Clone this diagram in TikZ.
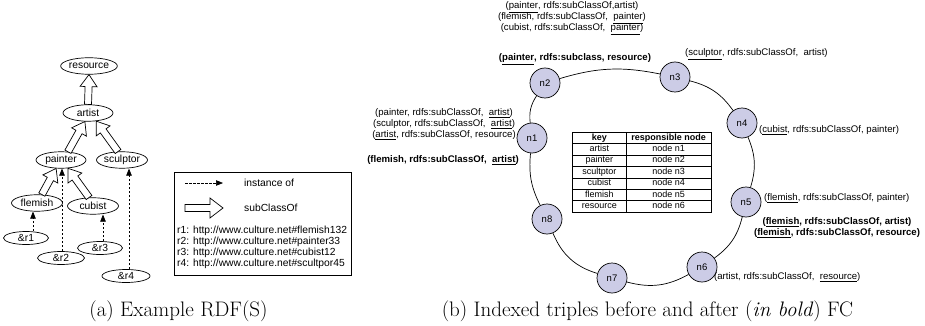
\documentclass[tikz,border=0pt]{standalone}
\usepackage{fontspec}
\setsansfont{Liberation Sans}
\usepackage{array}
\usetikzlibrary{arrows.meta,calc,shapes.geometric}
\definecolor{nodefill}{RGB}{204,204,230}
\newcommand{\hollowarrow}[5]{%
  \coordinate (ha-c) at ($(#2)!#5!(#1)$);
  \filldraw[hollowstyle]
    ($(#1)!#3!90:(#2)$) -- ($(ha-c)!#3!-90:(#1)$) -- ($(ha-c)!#4!-90:(#1)$) -- (#2)
    -- ($(ha-c)!#4!90:(#1)$) -- ($(ha-c)!#3!90:(#1)$) -- ($(#1)!#3!-90:(#2)$) -- cycle;
}
\begin{document}
\begin{tikzpicture}[x=1pt,y=-1pt,
  every node/.style={font=\sffamily\fontsize{9.6}{11}\selectfont},
  ellnode/.style={draw, ellipse, inner sep=0pt, minimum width=50pt, minimum height=16.5pt, line width=0.7pt, font=\sffamily\fontsize{10.3}{11}\selectfont},
  refnode/.style={draw, ellipse, inner sep=0pt, minimum width=45pt, minimum height=13pt, line width=0.7pt, font=\sffamily\fontsize{10.3}{11}\selectfont},
  instarrow/.style={line width=0.7pt, dash pattern=on 2.5pt off 1.5pt, -{Triangle[length=7pt,width=5.5pt]}},
  hollowstyle/.style={draw, fill=white, line width=0.7pt, line join=miter},
  ringnode/.style={draw, circle, fill=nodefill, minimum size=30pt, inner sep=0pt, line width=0.7pt, font=\sffamily\fontsize{9.5}{11}\selectfont},
  ringline/.style={line width=0.7pt},
  lbl/.style={inner sep=0pt, align=center},
  bl/.style={lbl, font=\sffamily\bfseries\fontsize{9.6}{11}\selectfont},
  legtext/.style={inner sep=0pt, font=\sffamily\fontsize{10.3}{11}\selectfont},
  captext/.style={inner sep=0pt, font=\rmfamily\fontsize{21}{24}\selectfont},
]
\useasboundingbox (0,0) rectangle (925,326);

% ---------- (a) ----------
\node[ellnode] (resource) at (89,66) {resource};
\node[ellnode] (artist) at (88,113) {artist};
\node[ellnode] (painter) at (61,160) {painter};
\node[ellnode, minimum width=51pt] (sculptor) at (122,160) {sculptor};
\node[ellnode, minimum width=51pt] (flemish) at (37,203) {flemish};
\node[ellnode, minimum width=51pt] (cubist) at (93,206) {cubist};
\node[refnode] (r1) at (26,238) {\&r1};
\node[refnode, minimum width=47pt] (r2) at (61,258) {\&r2};
\node[refnode] (r3) at (100,248) {\&r3};
\node[refnode, minimum width=48pt] (r4) at (126,276) {\&r4};

\hollowarrow{artist.north}{resource.south}{3.5pt}{8.5pt}{12pt}
\hollowarrow{painter.50}{artist.250}{3.5pt}{8.5pt}{12pt}
\hollowarrow{sculptor.115}{artist.315}{3.5pt}{8.5pt}{12pt}
\hollowarrow{flemish.60}{painter.240}{3.5pt}{8.5pt}{12pt}
\hollowarrow{cubist.115}{painter.310}{3.5pt}{8.5pt}{12pt}

\draw[instarrow] ([xshift=7pt]r1.north) -- ([xshift=-4pt]flemish.south);
\draw[instarrow] ([xshift=1pt]r2.north) -- ([xshift=1pt]painter.south);
\draw[instarrow] ([xshift=3pt]r3.north) -- ([xshift=10pt]cubist.south);
\draw[instarrow] ([xshift=3pt]r4.north) -- ([xshift=7pt]sculptor.south);

\node[draw, line width=0.7pt, minimum width=177pt, minimum height=103pt, inner sep=0pt, anchor=north west] (legend) at (174,172) {};
\coordinate (ia) at (185,183);
\coordinate (ib) at (223,183);
\draw[instarrow] (ia) -- (ib);
\node[legtext, anchor=west] (linst) at (244,183) {instance of};
\coordinate (sa) at (185,208);
\coordinate (sb) at (223,208);
\hollowarrow{sa}{sb}{3.5pt}{10pt}{13pt}
\node[legtext, anchor=west] (lsub) at (244,208) {subClassOf};
\node[legtext, anchor=west, align=left] (lr) at (177,247) {r1: http://www.culture.net\#flemish132\\r2: http://www.culture.net\#painter33\\r3: http://www.culture.net\#cubist12\\r4: http://www.culture.net\#scultpor45};

\node[captext] (capa) at (178.5,311) {(a) Example RDF(S)};

% ---------- (b) ----------
\node[ringnode] (n1) at (532,138) {n1};
\node[ringnode] (n2) at (545,83) {n2};
\node[ringnode] (n3) at (675,77) {n3};
\node[ringnode] (n4) at (742,123) {n4};
\node[ringnode] (n5) at (746,202) {n5};
\node[ringnode] (n6) at (702,267) {n6};
\node[ringnode] (n7) at (612,278) {n7};
\node[ringnode] (n8) at (547,219) {n8};
\draw[ringline] (n1) to[bend left=20] (n2);
\draw[ringline] (n2) to[bend left=14] (n3);
\draw[ringline] (n3) to[bend left=20] (n4);
\draw[ringline] (n4) to[bend left=20] (n5);
\draw[ringline] (n5) to[bend left=20] (n6);
\draw[ringline] (n6) to[bend left=22] (n7);
\draw[ringline] (n7) to[bend left=25] (n8);
\draw[ringline] (n8) to[bend left=16] (n1);

\node[inner sep=0pt, font=\sffamily\fontsize{9}{11}\selectfont] (tbl) at (642,172) {%
  \setlength\tabcolsep{2pt}%
  \begin{tabular}{|>{\centering\arraybackslash}p{49pt}|>{\centering\arraybackslash}p{81pt}|}
  \hline
  \textbf{key} & \textbf{responsible node}\\ \hline
  artist & node n1\\ \hline
  painter & node n2\\ \hline
  scultptor & node n3\\ \hline
  cubist & node n4\\ \hline
  flemish & node n5\\ \hline
  resource & node n6\\ \hline
  \end{tabular}};

\node[lbl] (t2) at (572,18) {(\underline{painter}, rdfs:subClassOf,artist)\\(flemish, rdfs:subClassOf,\ \ \underline{painter})\\(cubist, rdfs:subClassOf,\ \ \underline{painter})};
\node[bl] (b2) at (575,59) {(\underline{painter}, rdfs:subclass, resource)};
\node[lbl, anchor=west] (t3) at (685,54) {(\underline{sculptor}, rdfs:subClassOf,\ \ artist)};
\node[lbl] (t1) at (444,124) {(painter, rdfs:subClassOf,\ \ \underline{artist})\\(sculptor, rdfs:subClassOf,\ \ \underline{artist})\\(\underline{artist}, rdfs:subClassOf, resource)};
\node[bl] (b1) at (443,160) {(flemish, rdfs:subClassOf,\ \ \underline{artist})};
\node[lbl, anchor=west] (t4) at (759,130) {(\underline{cubist}, rdfs:subClassOf, painter)};
\node[lbl, anchor=west] (t5) at (764,198) {(\underline{flemish}, rdfs:subClassOf, painter)};
\node[bl] (b5) at (837,228) {(\underline{flemish}, rdfs:subClassOf, artist)\\(\underline{flemish}, rdfs:subClassOf, resource)};
\node[lbl, anchor=west] (t6) at (714,277) {(artist, rdfs:subClassOf,\ \ \underline{resource})};

\node[captext] (capb) at (647.5,311) {(b) Indexed triples before and after (\textit{in bold}) FC};
\end{tikzpicture}
\end{document}
